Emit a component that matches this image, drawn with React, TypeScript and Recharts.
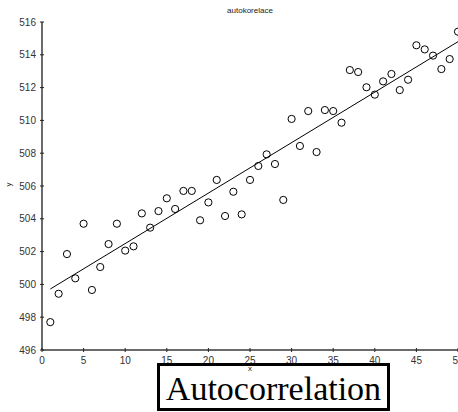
import { ScatterChart, Scatter, XAxis, YAxis } from "recharts";

const xs = [
  1, 2, 3, 4, 5, 6, 7, 8, 9, 10, 11, 12, 13, 14, 15, 16, 17, 18, 19, 20, 21,
  22, 23, 24, 25, 26, 27, 28, 29, 30, 31, 32, 33, 34, 35, 36, 37, 38, 39, 40,
  41, 42, 43, 44, 45, 46, 47, 48, 49, 50,
];
const ys = [
  497.7, 499.43, 501.85, 500.37, 503.7, 499.66, 501.06, 502.46, 503.7, 502.06,
  502.32, 504.33, 503.46, 504.47, 505.25, 504.6, 505.7, 505.7, 503.91, 505.0,
  506.37, 504.17, 505.65, 504.27, 506.37, 507.22, 507.93, 507.34, 505.15,
  510.09, 508.44, 510.57, 508.07, 510.63, 510.57, 509.86, 513.07, 512.95,
  512.02, 511.57, 512.38, 512.83, 511.85, 512.48, 514.58, 514.33, 513.95,
  513.13, 513.74, 515.41,
];
// fitted line end points
const fitX = [1, 50];
const fitY = [499.72, 514.8];

const xTicks = [0, 5, 10, 15, 20, 25, 30, 35, 40, 45, 50];
const yTicks = [496, 498, 500, 502, 504, 506, 508, 510, 512, 514, 516];

const points = xs.map((x, i) => ({ x, y: ys[i] }));
const fit = fitX.map((x, i) => ({ x, y: fitY[i] }));

const FONT = "'Liberation Sans', Arial, sans-serif";
const AXIS = "#6b6b6b";

const XTick = (props: any) => {
  const { x, y, payload } = props;
  return (
    <g>
      <line x1={x} x2={x} y1={y} y2={y - 4} stroke="#222" strokeWidth={1} />
      <text x={x} y={y + 12} textAnchor="middle" fontSize={10} fill="#333" fontFamily={FONT}>
        {payload.value}
      </text>
    </g>
  );
};

const YTick = (props: any) => {
  const { x, y, payload } = props;
  return (
    <g>
      <line x1={x} x2={x + 4} y1={y} y2={y} stroke="#222" strokeWidth={1} />
      <text x={x - 4} y={y + 3.5} textAnchor="end" fontSize={10} fill="#333" fontFamily={FONT}>
        {payload.value}
      </text>
    </g>
  );
};

const Dot = (props: any) => (
  <circle cx={props.cx} cy={props.cy} r={3.6} fill="none" stroke="#000" strokeWidth={1} />
);

export default function App() {
  return (
    <div style={{ position: "absolute", left: 0, top: 0, width: 458, height: 412, background: "#fff", overflow: "hidden" }}>
      <ScatterChart width={458} height={412} margin={{ top: 22, right: 0, bottom: 0, left: 0 }}>
        <XAxis
          type="number"
          dataKey="x"
          domain={[0, 50]}
          ticks={xTicks}
          allowDataOverflow
          height={62}
          tickSize={0}
          tickLine={false}
          axisLine={{ stroke: AXIS, strokeWidth: 2 }}
          tick={<XTick />}
          interval={0}
        />
        <YAxis
          type="number"
          dataKey="y"
          domain={[496, 516]}
          ticks={yTicks}
          allowDataOverflow
          width={42}
          tickSize={0}
          tickLine={false}
          axisLine={{ stroke: AXIS, strokeWidth: 2 }}
          tick={<YTick />}
          interval={0}
        />
        <Scatter data={points} shape={<Dot />} isAnimationActive={false} />
        <Scatter
          data={fit}
          line={{ stroke: "#000", strokeWidth: 1 }}
          shape={() => <g />}
          isAnimationActive={false}
        />
      </ScatterChart>
      <div style={{ position: "absolute", left: 0, top: 6, width: 500, textAlign: "center", fontFamily: FONT, fontSize: 8, color: "#222" }}>
        autokorelace
      </div>
      <div style={{ position: "absolute", left: 6, top: 180, transform: "rotate(-90deg)", fontFamily: FONT, fontSize: 8, color: "#222" }}>
        y
      </div>
      <div
        style={{
          position: "absolute",
          left: 157,
          top: 363,
          width: 227,
          height: 42,
          border: "3px solid #000",
          background: "#fff",
          fontFamily: "'Liberation Serif', 'Times New Roman', serif",
          fontSize: 34,
          lineHeight: "46px",
          textAlign: "center",
          color: "#000",
        }}
      >
        Autocorrelation
      </div>
      <div style={{ position: "absolute", left: 230, top: 365, width: 40, textAlign: "center", fontFamily: FONT, fontSize: 8, lineHeight: "8px", color: "#222" }}>
        x
      </div>
    </div>
  );
}
